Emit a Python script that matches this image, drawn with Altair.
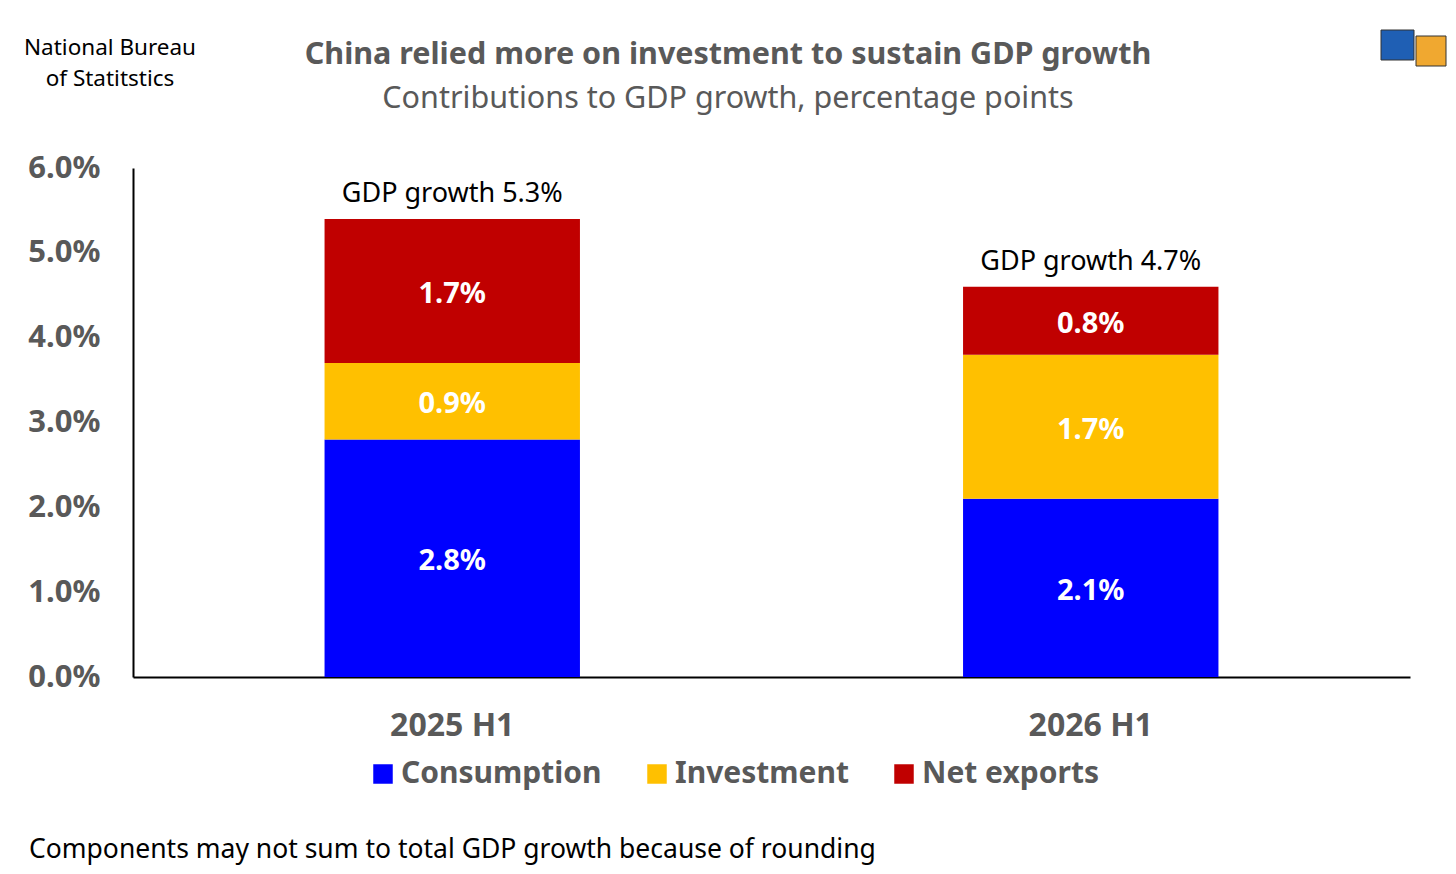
import altair as alt
import pandas as pd

periods = ["2025 H1", "2026 H1"]
components = ["Consumption", "Investment", "Net exports"]
consumption = [2.8, 2.1]
investment = [0.9, 1.7]
net_exports = [1.7, 0.8]
gdp_growth = [5.3, 4.7]
colors = ["#0000FF", "#FFC000", "#C00000"]

FONT = "Noto Sans"
GREY = "#595959"

rows = []
for i, p in enumerate(periods):
    for j, (c, vals) in enumerate(zip(components, [consumption, investment, net_exports])):
        rows.append({"period": p, "component": c, "order": j, "value": vals[i]})
df = pd.DataFrame(rows)

tot = pd.DataFrame({
    "period": periods,
    "top": [consumption[i] + investment[i] + net_exports[i] for i in range(len(periods))],
    "gdp": gdp_growth,
})

xenc = alt.X("period:N", sort=periods,
             scale=alt.Scale(paddingInner=0.6, paddingOuter=0.3),
             axis=alt.Axis(title=None, labelAngle=0, ticks=False, domainColor="black",
                           domainWidth=2, labelFontSize=32, labelFontWeight="bold",
                           labelColor=GREY, labelPadding=33, labelFont=FONT))

base = alt.Chart(df).transform_stack(
    stack="value", groupby=["period"], as_=["y0", "y1"], sort=[alt.SortField("order")]
).transform_calculate(mid="(datum.y0 + datum.y1) / 2",
                      lab="format(datum.value, '.1f') + '%'")

bars = base.mark_bar().encode(
    x=xenc,
    y=alt.Y("y0:Q", scale=alt.Scale(domain=[0, 6], nice=False),
            axis=alt.Axis(title=None, values=[0, 1, 2, 3, 4, 5, 6], ticks=False, grid=False,
                          domainColor="black", domainWidth=2,
                          labelExpr="format(datum.value, '.1f') + '%'",
                          labelFontSize=31, labelFontWeight="bold", labelColor=GREY,
                          labelPadding=33, labelFont=FONT)),
    y2="y1:Q",
    color=alt.Color("component:N", scale=alt.Scale(domain=components, range=colors),
                    legend=alt.Legend(title=None, orient="none", legendX=235, legendY=591,
                                      direction="horizontal", symbolType="square",
                                      symbolSize=380, symbolStrokeWidth=0,
                                      labelFontSize=30, labelFontWeight="bold",
                                      labelColor=GREY, labelFont=FONT, labelLimit=400,
                                      columnPadding=40, labelOffset=3)),
)

seg_text = base.mark_text(font=FONT, fontSize=29, fontWeight="bold", color="white",
                          baseline="middle", dy=3).encode(
    x=alt.X("period:N", sort=periods),
    y=alt.Y("mid:Q"),
    text="lab:N",
)

gdp_text = alt.Chart(tot).transform_calculate(
    lab="'GDP growth ' + format(datum.gdp, '.1f') + '%'"
).mark_text(font=FONT, fontSize=27, color="black", baseline="middle", dy=-25).encode(
    x=alt.X("period:N", sort=periods),
    y=alt.Y("top:Q"),
    text="lab:N",
)

def label(txt, x, y, size, weight="normal", color="black", align="center"):
    return alt.Chart(pd.DataFrame({"t": [txt]})).mark_text(
        font=FONT, fontSize=size, fontWeight=weight, color=color, align=align,
        baseline="middle").encode(x=alt.value(x), y=alt.value(y), text="t:N")

title = label("China relied more on investment to sustain GDP growth", 595, -113, 30.5, "bold", GREY)
subtitle = label("Contributions to GDP growth, percentage points", 595, -69, 30.5, "normal", GREY)
src1 = label("National Bureau", -23, -120, 22.5)
src2 = label("of Statitstics", -23, -89, 22.5)
foot = label("Components may not sum to total GDP growth because of rounding", -104, 682, 26.5,
             align="left")

# small decorative logo (two containers) in the top-right corner
def box(x, x2, y, y2, fill):
    return alt.Chart(pd.DataFrame({"k": [0]})).mark_rect(
        fill=fill, stroke="#333333", strokeWidth=1).encode(
        x=alt.value(x), x2=alt.value(x2), y=alt.value(y), y2=alt.value(y2))

logo = alt.layer(
    box(1248, 1281, -138, -108, "#1f5fb4"),
    box(1283, 1313, -132, -102, "#f0a830"),
)

chart = alt.layer(bars, seg_text, gdp_text, title, subtitle, src1, src2, foot, logo).properties(
    width=1277, height=509, autosize="none",
    padding={"left": 125, "top": 160, "right": 38, "bottom": 188},
    background="white",
).configure_view(stroke=None)

chart.save("out.html", embed_options={"renderer": "svg", "actions": False})
